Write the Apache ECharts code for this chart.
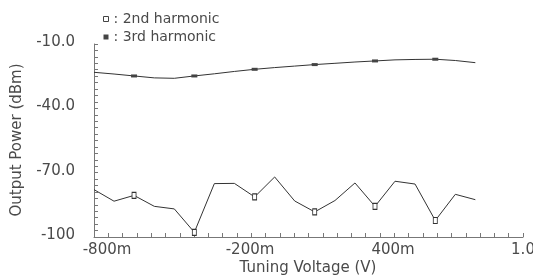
<!DOCTYPE html>
<html lang="en">
<head>
    <meta charset="UTF-8">
    <title>Output Power vs Tuning Voltage</title>
    <style>
        html, body { margin: 0; padding: 0; background: #fff; }
        #main { width: 533px; height: 280px; }
    </style>
</head>
<body>
<div id="main"></div>
<script src="https://cdn.jsdelivr.net/npm/echarts@6/dist/echarts.min.js"></script>
<script>
    // tuning voltage (V) of each sweep point
    var voltage = [-0.8, -0.716, -0.632, -0.547, -0.463, -0.379, -0.295, -0.211, -0.126, -0.042,
        0.042, 0.126, 0.211, 0.295, 0.379, 0.463, 0.547, 0.632, 0.716, 0.8];
    // output power (dBm)
    var thirdHarmonic = [-23.2, -24.0, -24.9, -25.8, -26.0, -24.9, -23.9, -22.8, -21.8, -21.0,
        -20.3, -19.6, -19.0, -18.4, -17.9, -17.4, -17.2, -17.1, -17.7, -18.7];
    var secondHarmonic = [-77.9, -83.3, -80.6, -85.7, -86.9, -97.8, -75.1, -75.0, -81.3, -72.0,
        -83.2, -88.3, -83.0, -74.8, -85.7, -74.0, -75.3, -92.3, -80.1, -82.6];
    var markerIndex = [2, 5, 8, 11, 14, 17];

    var xTickValues = [-0.8, -0.2, 0.4, 1.0];
    var xTickLabels = ['-800m', '-200m', '400m', '1.0'];
    var yTickValues = [-100, -70, -40, -10];
    var yTickLabels = ['-100', '-70.0', '-40.0', '-10.0'];
    var xTitle = 'Tuning Voltage (V)';
    var yTitle = 'Output Power (dBm)';

    // tick marks: 10 per major step
    var xTicks = [];
    for (var i = 0; i <= 30; i++) xTicks.push(Math.round((-0.8 + i * 0.06) * 1000) / 1000);
    var yTicks = [];
    for (var j = 0; j <= 30; j++) yTicks.push(-100 + j * 3);

    var font = 'DejaVu Sans';
    var textColor = '#4a4a4a';
    var axisColor = '#777';

    function pairs(ys) {
        return voltage.map(function (x, k) { return [x, ys[k]]; });
    }
    function markerSymbol(value, params) {
        return markerIndex.indexOf(params.dataIndex) >= 0 ? 'rect' : 'none';
    }

    var chart = echarts.init(document.getElementById('main'));
    chart.setOption({
        animation: false,
        grid: {left: 94, right: 10, top: 44, bottom: 43, containLabel: false, outerBoundsMode: 'none'},
        legend: {
            orient: 'vertical',
            left: 98,
            top: 7,
            itemWidth: 5,
            itemHeight: 5,
            itemGap: 4,
            selectedMode: false,
            formatter: function (n) { return ': ' + n; },
            textStyle: {fontFamily: font, fontSize: 14, color: textColor},
            data: [
                {name: '2nd harmonic', icon: 'rect', itemStyle: {color: '#fff', borderColor: '#444', borderWidth: 1}},
                {name: '3rd harmonic', icon: 'rect', itemStyle: {color: '#444'}}
            ]
        },
        // axis titles
        graphic: [{
            type: 'text',
            x: 308,
            y: 268,
            style: {text: xTitle, fontFamily: font, fontSize: 15, fill: textColor, align: 'center', verticalAlign: 'middle'}
        }, {
            type: 'text',
            x: 17,
            y: 140,
            rotation: Math.PI / 2,
            style: {text: yTitle, fontFamily: font, fontSize: 15, fill: textColor, align: 'center', verticalAlign: 'middle'}
        }],
        xAxis: {
            type: 'value',
            min: -0.8,
            max: 1.0,
            axisLine: {show: true, onZero: false, lineStyle: {color: axisColor, width: 1}},
            axisTick: {show: true, inside: true, length: 4, customValues: xTicks},
            axisLabel: {
                customValues: xTickValues,
                formatter: function (v) {
                    var k = xTickValues.indexOf(Math.round(v * 10) / 10);
                    return (k < xTickValues.length - 1 ? '{s|}' : '') + '{t|' + xTickLabels[k] + '}';
                },
                margin: 6,
                rich: {
                    s: {width: 26},
                    t: {fontFamily: font, fontSize: 15, color: textColor}
                }
            },
            splitLine: {show: false}
        },
        yAxis: {
            type: 'value',
            min: -100,
            max: -10,
            axisLine: {show: true, onZero: false, lineStyle: {color: axisColor, width: 1}},
            axisTick: {show: true, inside: true, length: 4, customValues: yTicks},
            axisLabel: {
                customValues: yTickValues,
                formatter: function (v) { return '{t|' + yTickLabels[yTickValues.indexOf(Math.round(v))] + '}'; },
                margin: 19,
                rich: {
                    t: {fontFamily: font, fontSize: 15, color: textColor, padding: [0, 0, 4, 0]}
                }
            },
            splitLine: {show: false}
        },
        series: [{
            name: '3rd harmonic',
            type: 'line',
            data: pairs(thirdHarmonic),
            showAllSymbol: true,
            symbol: markerSymbol,
            symbolSize: [6, 3],
            itemStyle: {color: '#444'},
            lineStyle: {color: '#333', width: 1}
        }, {
            name: '2nd harmonic',
            type: 'line',
            data: pairs(secondHarmonic),
            showAllSymbol: true,
            symbol: markerSymbol,
            symbolSize: [4, 6],
            itemStyle: {color: '#fff', borderColor: '#333', borderWidth: 1},
            lineStyle: {color: '#333', width: 1}
        }]
    });
</script>
</body>
</html>
